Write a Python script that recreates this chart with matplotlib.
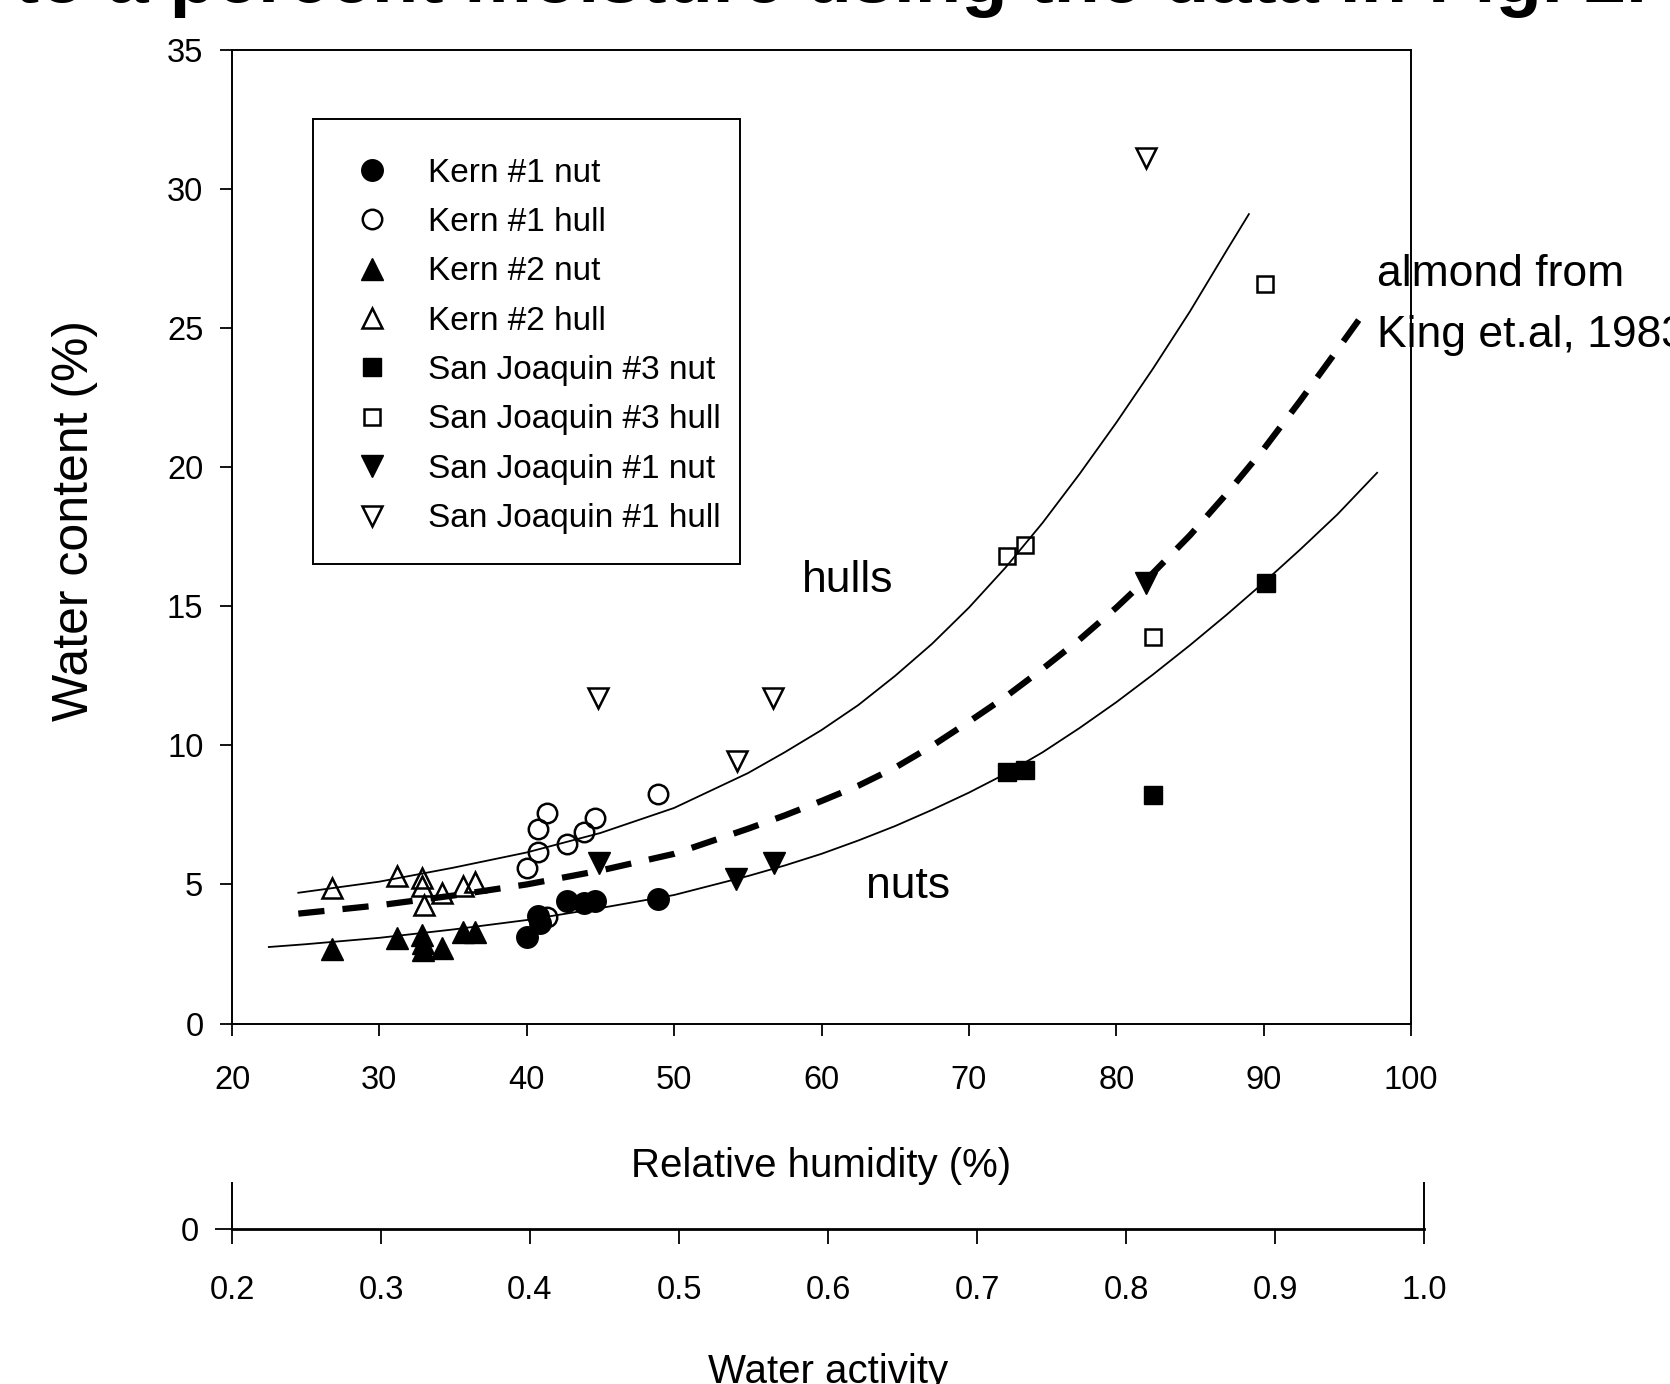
import matplotlib
matplotlib.use('Agg')
import matplotlib.pyplot as plt
from matplotlib import font_manager as fm
from matplotlib.patches import Rectangle

names = {f.name for f in fm.fontManager.ttflist}
NARROW = 'Liberation Sans Narrow' if 'Liberation Sans Narrow' in names else 'Liberation Sans'
plt.rcParams['font.family'] = [NARROW, 'DejaVu Sans']

# ---------------- data ----------------
kern1_nut_x = [40.0, 40.74, 40.9, 42.75, 43.9, 44.6, 48.9]
kern1_nut_y = [3.12, 3.88, 3.62, 4.42, 4.32, 4.42, 4.48]
kern1_hull_x = [40.0, 40.74, 40.74, 41.35, 41.35, 42.75, 43.9, 44.6, 48.9]
kern1_hull_y = [5.58, 6.18, 6.99, 7.56, 3.84, 6.46, 6.90, 7.38, 8.24]
kern2_nut_x = [26.76, 31.17, 32.91, 32.95, 32.98, 34.27, 35.69, 36.49]
kern2_nut_y = [2.67, 3.08, 3.18, 2.90, 2.64, 2.72, 3.30, 3.28]
kern2_hull_x = [26.76, 31.17, 32.91, 32.91, 33.0, 34.27, 35.69, 36.49]
kern2_hull_y = [4.88, 5.29, 5.22, 4.94, 4.26, 4.68, 4.96, 5.08]
sj3_nut_x = [72.56, 73.8, 82.5, 90.15]
sj3_nut_y = [9.06, 9.12, 8.22, 15.83]
sj3_hull_x = [72.56, 73.8, 82.5, 90.1]
sj3_hull_y = [16.82, 17.21, 13.91, 26.6]
sj1_nut_x = [44.87, 54.2, 56.8, 82.05]
sj1_nut_y = [5.78, 5.21, 5.78, 15.85]
sj1_hull_x = [44.86, 54.24, 56.72, 82.0]
sj1_hull_y = [11.7, 9.42, 11.7, 31.1]

# fitted curves
hull_curve_x = [24.5, 30, 35, 40, 45, 50, 55, 57.5, 60, 62.5, 65, 67.5, 70, 72.5,
                75, 77.5, 80, 82.5, 85, 87.5, 89]
hull_curve_y = [4.70, 5.10, 5.60, 6.15, 6.85, 7.75, 9.0, 9.75, 10.55, 11.45, 12.5,
                13.65, 14.95, 16.4, 18.0, 19.75, 21.6, 23.55, 25.6, 27.8, 29.1]
nut_curve_x = [22.5, 25, 30, 35, 40, 45, 50, 55, 57.5, 60, 62.5, 65, 67.5, 70, 72.5,
               75, 77.5, 80, 82.5, 85, 87.5, 90, 92.5, 95, 97.7]
nut_curve_y = [2.75, 2.85, 3.08, 3.38, 3.72, 4.15, 4.62, 5.30, 5.68, 6.10, 6.58,
               7.10, 7.68, 8.30, 8.98, 9.75, 10.62, 11.55, 12.55, 13.6, 14.7,
               15.85, 17.05, 18.3, 19.8]
king_curve_x = [24.5, 30, 35, 40, 45, 50, 55, 57.5, 60, 62.5, 65, 67.5, 70, 72.5,
                75, 77.5, 80, 82.5, 85, 87.5, 90, 92.5, 94.7, 96.6]
king_curve_y = [3.95, 4.25, 4.60, 5.00, 5.50, 6.10, 7.00, 7.48, 8.00, 8.55, 9.20,
                9.98, 10.85, 11.75, 12.75, 13.8, 14.95, 16.2, 17.55, 19.05, 20.65,
                22.4, 24.0, 25.4]

series_labels = ["Kern #1 nut", "Kern #1 hull", "Kern #2 nut", "Kern #2 hull",
                 "San Joaquin #3 nut", "San Joaquin #3 hull",
                 "San Joaquin #1 nut", "San Joaquin #1 hull"]
rh_ticks = [20, 30, 40, 50, 60, 70, 80, 90, 100]
wc_ticks = [0, 5, 10, 15, 20, 25, 30, 35]
aw_ticks = [0.2, 0.3, 0.4, 0.5, 0.6, 0.7, 0.8, 0.9, 1.0]
aw_labels = ["0.2", "0.3", "0.4", "0.5", "0.6", "0.7", "0.8", "0.9", "1.0"]

# ---------------- figure ----------------
W, H = 1670, 1384
fig = plt.figure(figsize=(W / 100, H / 100), dpi=100)


def fx(px):
    return px / W


def fy(py):
    return 1 - py / H


TICK_FS = 23.5
L, R, T, B = 232, 1411, 50, 1023.5
ax = fig.add_axes([fx(L), fy(B), (R - L) / W, (B - T) / H])
ax.set_xlim(20, 100)
ax.set_ylim(0, 35)
ax.set_xticks(rh_ticks)
ax.set_yticks(wc_ticks)
for s in ax.spines.values():
    s.set_linewidth(1.4)
ax.tick_params(direction='out', length=8.6, width=1.3, labelsize=TICK_FS,
               top=False, right=False)
ax.tick_params(axis='x', pad=21)
ax.tick_params(axis='y', pad=12)

series = [
    (kern1_nut_x, kern1_nut_y, 'o', True, 15.5),
    (kern1_hull_x, kern1_hull_y, 'o', False, 14),
    (kern2_nut_x, kern2_nut_y, '^', True, 16),
    (kern2_hull_x, kern2_hull_y, '^', False, 14.5),
    (sj3_nut_x, sj3_nut_y, 's', True, 12.5),
    (sj3_hull_x, sj3_hull_y, 's', False, 11.5),
    (sj1_nut_x, sj1_nut_y, 'v', True, 15.5),
    (sj1_hull_x, sj1_hull_y, 'v', False, 14.5),
]
for (xs, ys, m, filled, ms), lab in zip(series, series_labels):
    if filled:
        ax.plot(xs, ys, ls='none', marker=m, ms=ms, mfc='black', mec='black',
                mew=1.0, label=lab, zorder=4)
    else:
        ax.plot(xs, ys, ls='none', marker=m, ms=ms, mfc='none', mec='black',
                mew=1.8, label=lab, zorder=3)

ax.plot(hull_curve_x, hull_curve_y, color='black', lw=1.3, zorder=2)
ax.plot(nut_curve_x, nut_curve_y, color='black', lw=1.3, zorder=2)
ax.plot(king_curve_x, king_curve_y, color='black', lw=4.5,
        ls=(0, (4.2, 2.9)), dash_capstyle='butt', zorder=2, clip_on=False)

# legend entries (frame drawn separately to match the reference box)
frame = Rectangle((fx(312.7), fy(564)), (740 - 312.7) / W, (564 - 119) / H,
                  transform=fig.transFigure, fill=True, facecolor='white',
                  edgecolor='black', linewidth=1.4, zorder=5, clip_on=False)
ax.add_patch(frame)
leg = ax.legend(loc='upper left',
                bbox_to_anchor=((310.6 - L) / (R - L), (B - 124.3) / (B - T)),
                frameon=False, borderpad=1.0, handlelength=1.71,
                handletextpad=0.8, labelspacing=0.551, borderaxespad=0,
                numpoints=1, fontsize=24)
leg.set_zorder(6)

ANN_FS = 32
ax.text(61.8, 15.93, "hulls", fontsize=ANN_FS, ha='center', va='center')
ax.text(65.9, 4.94, "nuts", fontsize=ANN_FS, ha='center', va='center')
ax.text(97.7, 26.92, "almond from", fontsize=ANN_FS, ha='left', va='center',
        clip_on=False)
ax.text(97.7, 24.74, "King et.al, 1983", fontsize=ANN_FS, ha='left',
        va='center', clip_on=False)

# axis labels
fig.text(fx(74.6), fy(520.8), "Water content (%)", rotation=90,
         fontsize=36, family=['Liberation Sans', 'DejaVu Sans'],
         ha='center', va='center')
fig.text(fx((L + R) / 2), fy(1177), "Relative humidity (%)",
         fontsize=29, ha='center', va='baseline')

# secondary water-activity axis
ax2 = fig.add_axes([fx(232), fy(1229), (1424 - 232) / W, (1229 - 1183) / H])
ax2.set_xlim(0.2, 1.0)
ax2.set_ylim(0, 1)
ax2.set_xticks(aw_ticks)
ax2.set_xticklabels(aw_labels)
ax2.set_yticks([0])
ax2.set_yticklabels(["0"])
ax2.spines['top'].set_visible(False)
ax2.spines['bottom'].set_linewidth(2.0)
ax2.spines['left'].set_linewidth(1.4)
ax2.spines['right'].set_linewidth(1.4)
ax2.patch.set_alpha(0)
ax2.tick_params(direction='out', length=11, width=1.3, labelsize=TICK_FS)
ax2.tick_params(axis='x', pad=22)
ax2.tick_params(axis='y', pad=12, length=12)
fig.text(fx(828), fy(1383), "Water activity",
         fontsize=29, ha='center', va='baseline')

# partly visible slide heading at the very top
fig.text(fx(14), fy(2), "to a percent moisture using the data in Fig. 2.",
         fontsize=54.5, fontweight='bold', family=['Liberation Sans', 'DejaVu Sans'],
         ha='left', va='baseline')

fig.savefig('out.png', dpi=100)
